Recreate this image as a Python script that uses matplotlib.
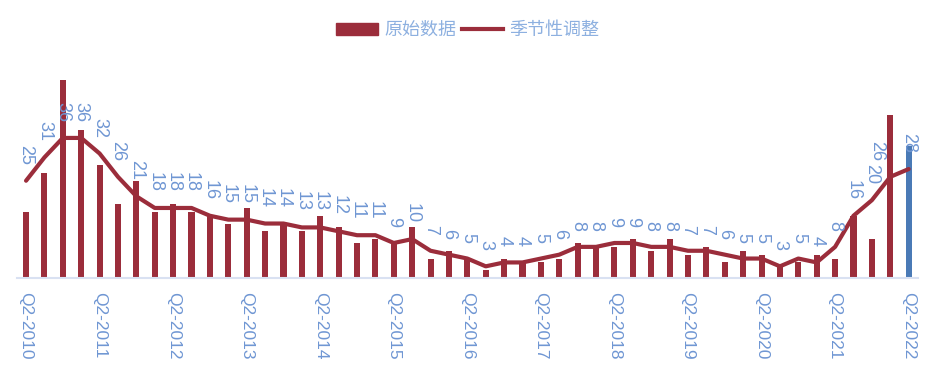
import matplotlib
matplotlib.use("Agg")
from matplotlib import pyplot as plt
from matplotlib.patches import Patch
from matplotlib.lines import Line2D

plt.rcParams['font.family'] = ['Liberation Sans', 'Noto Sans CJK SC', 'DejaVu Sans']

# quarters Q2-2010 .. Q2-2022
quarters = []
for y in range(2010, 2023):
    for q in (2, 3, 4, 1):
        yy = y if q != 1 else y + 1
        quarters.append("Q%d-%d" % (q, yy))
quarters = quarters[:49]

# 原始数据
raw = [17, 27, 51, 38, 29, 19, 25, 17, 19, 17, 16, 14, 18, 12, 14, 12,
       16, 13, 9, 10, 9, 13, 5, 7, 5, 2, 5, 4, 4, 5, 9, 8,
       8, 10, 7, 10, 6, 8, 4, 7, 6, 3, 4, 6, 5, 16, 10, 42, 34]
# 季节性调整
adj = [25, 31, 36, 36, 32, 26, 21, 18, 18, 18, 16, 15, 15, 14, 14, 13,
       13, 12, 11, 11, 9, 10, 7, 6, 5, 3, 4, 4, 5, 6, 8, 8,
       9, 9, 8, 8, 7, 7, 6, 5, 5, 3, 5, 4, 8, 16, 20, 26, 28]

red = '#9B2D3B'
blue = '#4A7AB6'
txt = '#6F96D3'

fig = plt.figure(figsize=(9.36, 3.77), dpi=100)
ax = fig.add_axes([0.018, 0.2626, 0.9626, 0.5676])

x = list(range(len(raw)))
colors = [red] * (len(raw) - 1) + [blue]
ax.bar(x, raw, width=0.33, color=colors, zorder=2)
ax.plot(x, adj, color=red, lw=3, solid_capstyle='round', solid_joinstyle='round', zorder=3)

for i, v in enumerate(adj):
    dx = -0.75 if i == 47 else 0
    ax.annotate(str(v), (i, v), xytext=(dx * 13.2, 11.5), textcoords='offset points',
                rotation=270, ha='center', va='bottom', color=txt, fontsize=13)

ax.set_xlim(-0.5, len(raw) - 0.5)
ax.set_ylim(0, 55)
ax.set_xticks(x[::4])
ax.set_xticklabels(quarters[::4], rotation=270, color=txt, fontsize=12.5)
ax.tick_params(axis='x', length=0, pad=10)
ax.set_yticks([])
for s in ['top', 'right', 'left']:
    ax.spines[s].set_visible(False)
ax.spines['bottom'].set_color('#D9E1F2')
ax.spines['bottom'].set_linewidth(1.5)

handles = [Patch(color=red), Line2D([], [], color=red, lw=3)]
leg = fig.legend(handles, ['原始数据', '季节性调整'], loc='center', bbox_to_anchor=(0.5, 0.92),
                 ncol=2, frameon=False, handlelength=2.3, handleheight=0.6,
                 handletextpad=0.35, columnspacing=0.3,
                 prop={'family': ['Noto Sans CJK SC'], 'size': 13})
for t in leg.get_texts():
    t.set_color('#8DB0E0')

fig.savefig('out.png', dpi=100)
